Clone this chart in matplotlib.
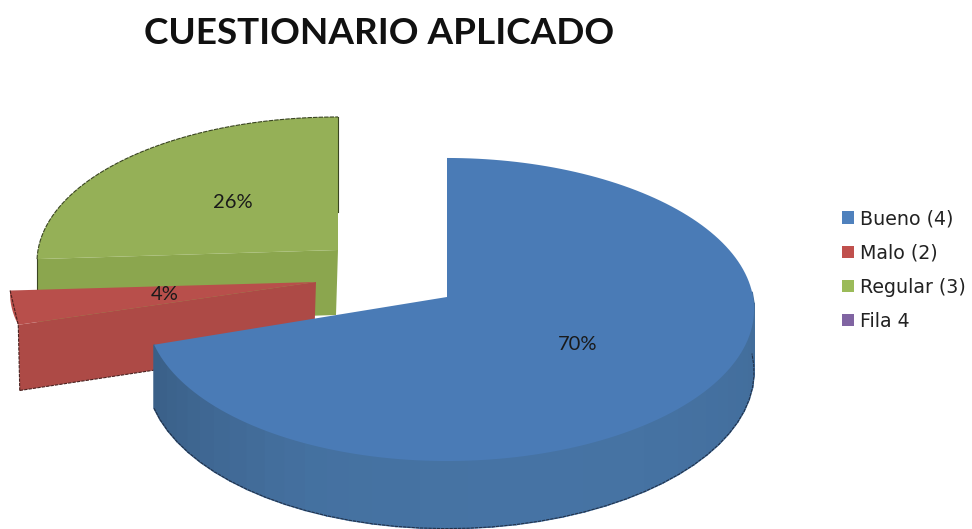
import numpy as np
import matplotlib
matplotlib.use("Agg")
import matplotlib.pyplot as plt
from matplotlib.patches import Patch, Polygon

title = "CUESTIONARIO APLICADO"
categories = ["Bueno (4)", "Malo (2)", "Regular (3)", "Fila 4"]
values = [70, 4, 26, 0]
top_colors = ["#4A7BB6", "#B84F4B", "#95B057", "#8064A2"]
wall_colors = ["#44709F", "#AD4A46", "#8BA64E", "#8064A2"]
legend_colors = ["#4F81BD", "#C0504D", "#9BBB59", "#8064A2"]

# projection: apex x, apex y, half width, height scale, wall depth
geom = [(447, 297, 303, 150.5, 62),
        (316, 282, 308, 135, 64),
        (338, 250, 303, 144, 65),
        (447, 297, 303, 150.5, 62)]
label_xy = [(578, 345), (165, 295), (233, 202), None]
K = 0.0825
SKEW = 0.01

total = sum(values)
edges = np.cumsum([0] + values) / total * 360.0


def rim(theta_deg, g):
    cx, cy, bx, ay, d = g
    t = np.radians(theta_deg)
    w = 1 + K * np.cos(t)
    u = np.sin(t)
    return cx + bx * (1 + SKEW * u) * u / w, cy - ay * np.cos(t) / w, d / w


fig = plt.figure(figsize=(9.72, 5.29), dpi=100)
ax = fig.add_axes([0, 0, 1, 1])
ax.set_xlim(0, 972)
ax.set_ylim(529, 0)
ax.axis("off")


def top_face(i, z):
    g = geom[i]
    th = np.linspace(edges[i], edges[i + 1], 160)
    x, y, _ = rim(th, g)
    pts = np.column_stack([np.r_[g[0], x], np.r_[g[1], y]])
    ax.add_patch(Polygon(pts, closed=True, fc=top_colors[i], ec="none", zorder=z))
    return x, y


def cut_face(i, theta, z):
    g = geom[i]
    x, y, d = rim(np.array([theta]), g)
    pts = [(g[0], g[1]), (x[0], y[0]), (x[0] + 1.5, y[0] + d[0]), (g[0] - 2, g[1] + g[4])]
    ax.add_patch(Polygon(pts, closed=True, fc=wall_colors[i], ec="none", zorder=z))
    return pts


# Regular (back, exploded)
pts = cut_face(2, edges[2], 1)
x, y = top_face(2, 1.1)
ax.plot(x, y, color="#3a4522", lw=0.8, ls=(0, (4, 1)), zorder=1.2)
ax.plot([geom[2][0], geom[2][0]], [y[-1], y[-1] + 95], color="#3a4522", lw=0.8, zorder=1.2)
ax.plot([x[0], x[0]], [y[0], y[0] + 35], color="#3a4522", lw=0.8, zorder=1.2)

# Malo (exploded)
pts = cut_face(1, edges[1], 2)
x, y = top_face(1, 2.1)
ax.plot([x[-1], x[0], pts[2][0]], [y[-1], y[0], pts[2][1]], color="#4a2220", lw=0.8, ls=(0, (3, 1)), zorder=2.2)
ax.plot([pts[2][0], pts[3][0]], [pts[2][1], pts[3][1]], color="#4a2220", lw=0.8, ls=(0, (3, 1)), zorder=2.2)

# Bueno (front): curved outer wall made of shaded strips
g = geom[0]
th = np.linspace(edges[1], 88, 40)
wall_rgb = np.array(matplotlib.colors.to_rgb(wall_colors[0]))
for a, b in zip(th[:-1], th[1:]):
    xa, ya, da = rim(a, g)
    xb, yb, db = rim(b, g)
    mid = 0.5 * (a + b)
    shade = 0.96 + 0.07 * np.exp(-((mid - 165) / 60.0) ** 2)
    if mid > 205:
        shade -= 0.12 * (mid - 205) / 47.0
    col = np.clip(wall_rgb * shade, 0, 1)
    ax.add_patch(Polygon([(xa, ya), (xb, yb), (xb, yb + db), (xa, ya + da)],
                         closed=True, fc=col, ec=col, lw=1.2, zorder=3))
x, y, d = rim(th, g)
ax.plot(x, y + d, color="#22324a", lw=0.8, ls=(0, (3, 0.8)), zorder=3.1)
top_face(0, 3.2)

# Percent labels from the values
for v, xy in zip(values, label_xy):
    if xy is not None and v > 0:
        ax.text(xy[0], xy[1], f"{v / total * 100:.0f}%", ha="center", va="center",
                fontsize=14.5, family="Lato", color="#1a1a1a", zorder=5)

ax.text(379.5, 33, title, ha="center", va="center", fontsize=26.6, family="Lato",
        fontweight="bold", color="#111111")

handles = [Patch(fc=c, ec="none") for c in legend_colors]
leg = ax.legend(handles, categories, loc="center left", bbox_to_anchor=(0.8665, 0.4896),
                frameon=False, handlelength=0.62, handleheight=0.62,
                handletextpad=0.3, labelspacing=0.8, borderpad=0, borderaxespad=0,
                labelcolor="#222222", prop={"family": "DejaVu Sans", "size": 13.7})

fig.savefig("out.png", dpi=100)
